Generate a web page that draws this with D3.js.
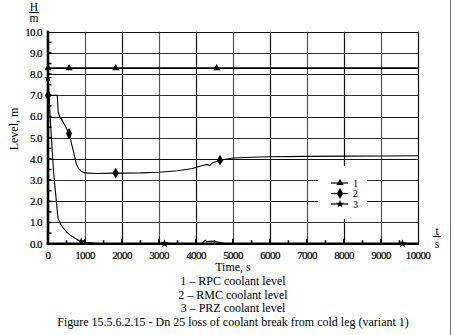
<!DOCTYPE html>
<html>
<head>
<meta charset="utf-8">
<script src="https://cdn.jsdelivr.net/npm/d3@7"></script>
<style>
  html, body { margin: 0; padding: 0; background: #fff; }
  svg { display: block; }
  text { font-family: "Liberation Serif", "Times New Roman", serif; fill: #000; }
  .tick-label { font-size: 11px; letter-spacing: -0.6px; stroke: #000; stroke-width: 0.2px; }
  .cap { font-size: 12px; }
</style>
</head>
<body>
<svg id="chart" width="454" height="335"></svg>
<script>
// Axis ticks
const timeTicks = [0, 1000, 2000, 3000, 4000, 5000, 6000, 7000, 8000, 9000, 10000];
const levelTicks = [0, 1, 2, 3, 4, 5, 6, 7, 8, 9, 10];
const levelTickLabels = ["0.0", "1.0", "2.0", "3.0", "4.0", "5.0", "6.0", "7.0", "8.0", "9.0", "10.0"];

// 1 - RPC coolant level
const rpcTime  = [0, 10000];
const rpcLevel = [8.28, 8.28];
const rpcMarkTime  = [0, 570, 1830, 4560];
const rpcMarkLevel = [8.28, 8.28, 8.28, 8.28];

// 2 - RMC coolant level
const rmcTime  = [0, 250, 275, 320, 420, 570, 680, 760, 820, 900, 1000, 1300, 1830, 2500, 3000, 3500, 3900, 4150, 4300, 4370, 4450, 4650, 5000, 5500, 6000, 7000, 8000, 9000, 10000];
const rmcLevel = [7.0, 7.0, 6.2, 6.0, 5.7, 5.2, 4.4, 3.8, 3.55, 3.42, 3.34, 3.31, 3.33, 3.34, 3.37, 3.44, 3.55, 3.68, 3.74, 3.68, 3.82, 3.94, 4.04, 4.08, 4.1, 4.12, 4.13, 4.14, 4.15];
const rmcMarkTime  = [0, 570, 1830, 4650];
const rmcMarkLevel = [7.0, 5.2, 3.33, 3.94];

// 3 - PRZ coolant level
const przTime  = [0, 30, 60, 150, 270, 330, 420, 520, 620, 720, 820, 920, 1050, 1300, 1600, 3000, 4150, 4250, 4300, 4450, 4600, 4750, 5000, 10000];
const przLevel = [7.8, 7.0, 5.9, 3.4, 1.2, 0.95, 0.72, 0.52, 0.38, 0.27, 0.18, 0.1, 0.06, 0.02, 0.0, 0.0, 0.0, 0.16, 0.1, 0.12, 0.08, 0.02, 0.0, 0.0];
const przMarkTime  = [0, 900, 3150, 9580];
const przMarkLevel = [7.8, 0.1, 0.0, 0.0];

// Legend and caption texts
const legendLabels = ["1", "2", "3"];
const captionLines = ["Time, s", "1 \u2013 RPC coolant level", "2 \u2013 RMC coolant level", "3 \u2013 PRZ coolant level", "Figure 15.5.6.2.15 - Dn 25 loss of coolant break from cold leg (variant 1)"];

const svg = d3.select("#chart");
const plotL = 48, plotR = 418, plotT = 31.7, plotB = 243.7;
const x = d3.scaleLinear().domain([0, 10000]).range([plotL, plotR]);
const y = d3.scaleLinear().domain([0, 10]).range([plotB, plotT]);

// outer frame line on the right edge
svg.append("line").attr("x1", 450.5).attr("x2", 450.5).attr("y1", 0).attr("y2", 335)
  .attr("stroke", "#777").attr("stroke-width", 1);

// grid
const grid = svg.append("g");
grid.selectAll(".vg").data(timeTicks.slice(1)).join("line")
  .attr("x1", d => Math.round(x(d)) + 0.5).attr("x2", d => Math.round(x(d)) + 0.5)
  .attr("y1", plotT).attr("y2", plotB)
  .attr("stroke", (d, i) => i % 2 ? "#111" : "#555").attr("stroke-width", 1.2);
grid.selectAll(".hg").data(levelTicks.slice(1)).join("line")
  .attr("x1", plotL).attr("x2", plotR)
  .attr("y1", d => Math.round(y(d)) + 0.5).attr("y2", d => Math.round(y(d)) + 0.5)
  .attr("stroke", (d, i) => i % 2 ? "#111" : "#3a2a33").attr("stroke-width", 1.2);

// legend backdrop hides grid behind it
svg.append("rect").attr("x", 318).attr("y", 166).attr("width", 49).attr("height", 53).attr("fill", "#fff");

// minor ticks
const minorY = d3.range(0.5, 10, 0.5);
svg.selectAll(".my").data(minorY).join("line")
  .attr("x1", plotL).attr("x2", plotL + 3.5)
  .attr("y1", d => y(d)).attr("y2", d => y(d))
  .attr("stroke", "#000").attr("stroke-width", 1.6);
const minorX = d3.range(500, 10000, 500);
svg.selectAll(".mx").data(minorX).join("line")
  .attr("x1", d => x(d)).attr("x2", d => x(d))
  .attr("y1", plotB).attr("y2", d => plotB - (d % 1000 === 0 ? 5 : 3.5))
  .attr("stroke", "#000").attr("stroke-width", d => d % 1000 === 0 ? 2 : 1.6);

// axes lines
svg.append("line").attr("x1", plotL).attr("x2", plotL).attr("y1", plotT - 1).attr("y2", plotB + 1.5)
  .attr("stroke", "#000").attr("stroke-width", 2.6);
svg.append("line").attr("x1", plotL - 1.3).attr("x2", plotR + 1).attr("y1", plotB).attr("y2", plotB)
  .attr("stroke", "#000").attr("stroke-width", 2.6);

// tick labels
svg.selectAll(".yl").data(levelTicks).join("text").attr("class", "tick-label")
  .attr("x", 42).attr("y", d => y(d) + 3.8).attr("text-anchor", "end")
  .text((d, i) => levelTickLabels[i]);
svg.selectAll(".xl").data(timeTicks).join("text").attr("class", "tick-label")
  .attr("x", d => x(d)).attr("y", 258.5).attr("text-anchor", "middle")
  .text(d => String(d));

// axis unit marks
svg.append("text").attr("x", 34).attr("y", 11).attr("text-anchor", "middle").style("font-size", "11.5px").text("H");
svg.append("line").attr("x1", 29).attr("x2", 39).attr("y1", 12.5).attr("y2", 12.5).attr("stroke", "#000").attr("stroke-width", 1.1);
svg.append("text").attr("x", 34).attr("y", 22).attr("text-anchor", "middle").style("font-size", "11.5px").text("m");
svg.append("text").attr("x", 437).attr("y", 235).attr("text-anchor", "middle").style("font-size", "11.5px").text("t");
svg.append("line").attr("x1", 433).attr("x2", 441).attr("y1", 236.5).attr("y2", 236.5).attr("stroke", "#000").attr("stroke-width", 1.1);
svg.append("text").attr("x", 437).attr("y", 247.5).attr("text-anchor", "middle").style("font-size", "11.5px").text("s");
svg.append("text").attr("transform", "translate(18,129) rotate(-90)").attr("text-anchor", "middle")
  .style("font-size", "12px").text("Level, m");

// series lines
const line = d3.line().x(d => x(d[0])).y(d => y(d[1]));
const zip = (a, b) => a.map((v, i) => [v, b[i]]);
svg.append("path").datum(zip(rpcTime, rpcLevel)).attr("d", line).attr("fill", "none").attr("stroke", "#000").attr("stroke-width", 1.8);
svg.append("path").datum(zip(rmcTime, rmcLevel)).attr("d", line).attr("fill", "none").attr("stroke", "#000").attr("stroke-width", 1.1);
svg.append("path").datum(zip(przTime, przLevel)).attr("d", line).attr("fill", "none").attr("stroke", "#000").attr("stroke-width", 1.1);

// markers
const triSym = d3.symbol().type(d3.symbolTriangle).size(22);
const diaSym = d3.symbol().type(d3.symbolDiamond).size(34);
const starSym = d3.symbol().type(d3.symbolStar).size(22);
function marks(t, v, sym) {
  svg.append("g").selectAll("path").data(zip(t, v)).join("path")
    .attr("transform", d => `translate(${x(d[0])},${y(d[1])})`)
    .attr("d", sym).attr("fill", "#000");
}
marks(rpcMarkTime, rpcMarkLevel, triSym);
marks(rmcMarkTime, rmcMarkLevel, diaSym);
marks(przMarkTime, przMarkLevel, starSym);

// legend
const syms = [triSym, diaSym, starSym];
const lg = svg.append("g");
legendLabels.forEach((lab, i) => {
  const ly = 183 + i * 10.5;
  lg.append("line").attr("x1", 331).attr("x2", 348).attr("y1", ly).attr("y2", ly).attr("stroke", "#000").attr("stroke-width", 1.2);
  lg.append("path").attr("transform", `translate(340,${ly})`).attr("d", syms[i]).attr("fill", "#000");
  lg.append("text").attr("x", 353).attr("y", ly + 3.5).style("font-size", "10px").text(lab);
});

// caption
const capY = [271, 285, 298.5, 312, 325.5];
svg.selectAll(".cap").data(captionLines).join("text").attr("class", "cap")
  .attr("x", (plotL + plotR) / 2).attr("y", (d, i) => capY[i]).attr("text-anchor", "middle")
  .text(d => d);
</script>
</body>
</html>
